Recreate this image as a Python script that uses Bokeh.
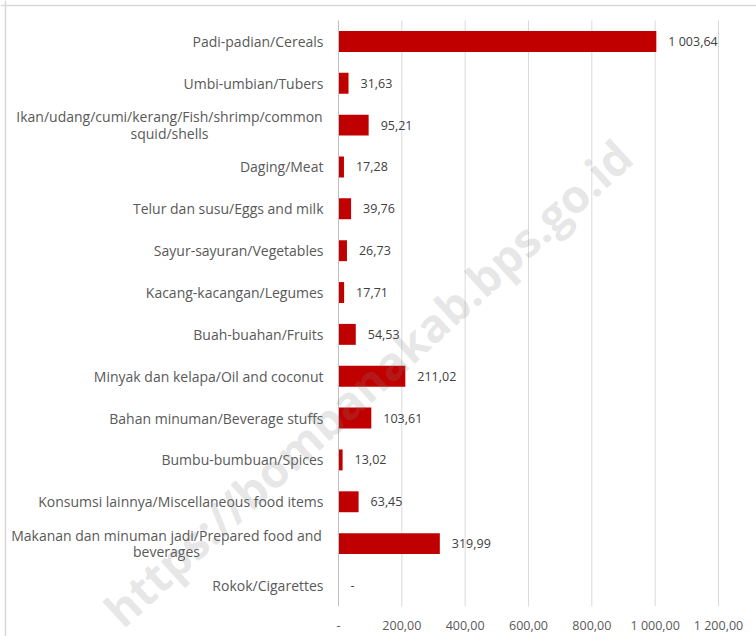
from bokeh.plotting import figure
from bokeh.models import Range1d, ColumnDataSource, Label, Span
from bokeh.core.properties import value
from bokeh.embed import file_html
from bokeh.resources import INLINE

categories = [
    "Padi-padian/Cereals",
    "Umbi-umbian/Tubers",
    "Ikan/udang/cumi/kerang/Fish/shrimp/common\nsquid/shells",
    "Daging/Meat",
    "Telur dan susu/Eggs and milk",
    "Sayur-sayuran/Vegetables",
    "Kacang-kacangan/Legumes",
    "Buah-buahan/Fruits",
    "Minyak dan kelapa/Oil and coconut",
    "Bahan minuman/Beverage stuffs",
    "Bumbu-bumbuan/Spices",
    "Konsumsi lainnya/Miscellaneous food items",
    "Makanan dan minuman jadi/Prepared food and\nbeverages",
    "Rokok/Cigarettes",
]
values = [1003.64, 31.63, 95.21, 17.28, 39.76, 26.73, 17.71, 54.53,
          211.02, 103.61, 13.02, 63.45, 319.99, 0.0]
value_labels = ["1 003,64", "31,63", "95,21", "17,28", "39,76", "26,73", "17,71",
                "54,53", "211,02", "103,61", "13,02", "63,45", "319,99", "-"]
tick_values = [0, 200, 400, 600, 800, 1000, 1200]
tick_labels = ["-", "200,00", "400,00", "600,00", "800,00", "1 000,00", "1 200,00"]

FONT = "Open Sans"
W, H = 756, 636
X0_PX, X1_PX = 338, 718          # pixel position of 0 and 1200
BAND = 41.85                     # px per category
TOP_PX = 20.0                    # top of first band

n = len(categories)
pos = list(range(n))
xmax = tick_values[-1]
upp = xmax / (X1_PX - X0_PX)     # data units per pixel
x_start = -X0_PX * upp
x_end = xmax + (W - X1_PX) * upp
y_top = -0.5 - TOP_PX / BAND
y_bot = y_top + H / BAND

p = figure(
    width=W, height=H,
    x_range=Range1d(x_start, x_end),
    y_range=Range1d(y_bot, y_top),
    output_backend="svg", toolbar_location=None,
    min_border=0,
)
p.outline_line_color = None
p.axis.visible = False
p.grid.visible = False

# chart border (light grey, left and top edges visible)
p.add_layout(Span(location=x_start + 5 * upp, dimension="height",
                  line_color="#d9d9d9", line_width=1.5))
p.add_layout(Span(location=y_top + 5 / BAND, dimension="width",
                  line_color="#d9d9d9", line_width=1.5))

# gridlines
p.segment(x0=tick_values[1:], x1=tick_values[1:], y0=[-0.5] * (len(tick_values) - 1),
          y1=[n - 0.5] * (len(tick_values) - 1), line_color="#d9d9d9", line_width=1)

# bars
src = ColumnDataSource(dict(y=pos, val=values, lab=value_labels))
p.hbar(y="y", right="val", left=0, height=0.5, source=src,
       fill_color="#C00000", line_color=None)

# axis line
p.segment(x0=[0], x1=[0], y0=[-0.5], y1=[n - 0.5], line_color="#bfbfbf", line_width=1)

# value labels
p.text(x="val", y="y", text="lab", source=src, x_offset=12,
       text_align="left", text_baseline="middle",
       text_font=value(FONT), text_font_size="12.5px", text_color="#404040")

# category labels
single = [(i, c) for i, c in enumerate(categories) if "\n" not in c]
multi = [(i, c) for i, c in enumerate(categories) if "\n" in c]
p.text(x=[0] * len(single), y=[i for i, _ in single], text=[c for _, c in single],
       x_offset=-15, text_align="right", text_baseline="middle",
       text_font=value(FONT), text_font_size="14px", text_color="#595959")
half_widths = [154, 157]
p.text(x=[0] * len(multi), y=[i for i, _ in multi], text=[c for _, c in multi],
       x_offset=[-15 - hw for hw in half_widths], text_align="center", text_baseline="middle",
       text_line_height=0.87,
       text_font=value(FONT), text_font_size="14px", text_color="#595959")

# x tick labels
p.text(x=tick_values, y=[n - 0.5] * len(tick_values), text=tick_labels,
       y_offset=19, text_align="center", text_baseline="middle",
       text_font=value(FONT), text_font_size="12.5px", text_color="#595959")

# watermark
wm = Label(x=367, y=254, x_units="screen", y_units="screen",
           text="https://bombanakab.bps.go.id", angle=0.74,
           text_font=FONT, text_font_style="bold", text_font_size="46px",
           text_color="#808080", text_alpha=0.2,
           text_align="center", text_baseline="middle")
p.add_layout(wm)

open("out.html", "w").write(file_html(p, INLINE))
